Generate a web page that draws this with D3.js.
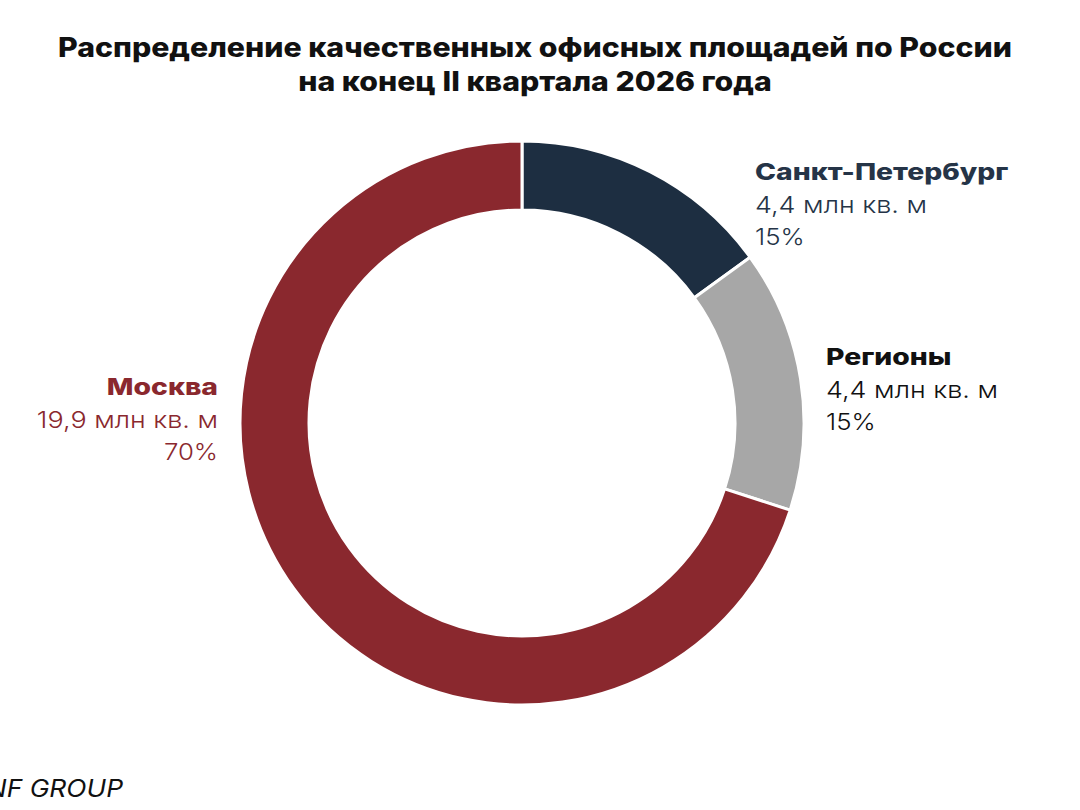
<!DOCTYPE html>
<html>
<head>
<meta charset="utf-8">
<script src="https://cdn.jsdelivr.net/npm/d3@7"></script>
<style>
  body { margin: 0; background: #fff; }
  svg { display: block; font-family: Inter, "Open Sans", sans-serif; }
</style>
</head>
<body>
<svg id="chart" width="1080" height="810"></svg>
<script>
// data
var regions = ["Санкт-Петербург", "Регионы", "Москва"];
var areas = [4.4, 4.4, 19.9];           // млн кв. м
var shares = [15, 15, 70];              // %
var areaLabels = ["4,4 млн кв. м", "4,4 млн кв. м", "19,9 млн кв. м"];
var titleLines = ["Распределение качественных офисных площадей по России", "на конец II квартала 2026 года"];

var colors = ["#1d2e41", "#a7a7a7", "#8a282e"];
var textColors = ["#253447", "#111111", "#8a282e"];

var svg = d3.select("svg#chart");
var cx = 522, cy = 423, outerR = 282, innerR = 213;

// widen text a bit (original font is wider than Inter)
function stretch(sel, k) {
  sel.each(function () {
    var w = this.getComputedTextLength();
    d3.select(this).attr("textLength", w * k).attr("lengthAdjust", "spacingAndGlyphs");
  });
}

// title
var title = svg.selectAll(".title")
  .data(titleLines)
  .enter()
  .append("text")
  .attr("class", "title")
  .attr("x", 535)
  .attr("y", (d, i) => 57 + i * 34)
  .attr("text-anchor", "middle")
  .style("font-size", "27px")
  .style("font-weight", 800)
  .style("fill", "#111")
  .text(d => d);
stretch(title, 1.12);

var pie = d3.pie().sort(null).value(d => d);
var arc = d3.arc().innerRadius(innerR).outerRadius(outerR);

var g = svg.append("g").attr("transform", "translate(" + cx + "," + cy + ")");
g.selectAll("path")
  .data(pie(shares))
  .enter()
  .append("path")
  .attr("d", arc)
  .attr("fill", (d, i) => colors[i])
  .attr("stroke", "#fff")
  .attr("stroke-width", 3);

// labels
var labelPos = [
  { x: 755, y: 180, anchor: "start" },
  { x: 826, y: 365, anchor: "start" },
  { x: 218, y: 395, anchor: "end" }
];

function label(p, i, dy, weight, txt, k) {
  var t = svg.append("text")
    .attr("x", p.x)
    .attr("y", p.y + dy)
    .attr("text-anchor", p.anchor)
    .style("fill", textColors[i])
    .style("font-size", "23px")
    .style("font-weight", weight)
    .text(txt);
  stretch(t, k);
}

regions.forEach(function (name, i) {
  var p = labelPos[i];
  label(p, i, 0, 800, name, 1.23);
  label(p, i, 33, 300, areaLabels[i], 1.17);
  label(p, i, 65, 300, shares[i] + "%", 1.12);
});

// source (cut off at left edge as in the original)
var src = svg.append("text")
  .attr("x", 123)
  .attr("y", 797)
  .attr("text-anchor", "end")
  .style("font-size", "24px")
  .style("font-style", "italic")
  .style("font-weight", 400)
  .style("fill", "#111")
  .text("NF GROUP");
stretch(src, 1.1);
</script>
</body>
</html>
